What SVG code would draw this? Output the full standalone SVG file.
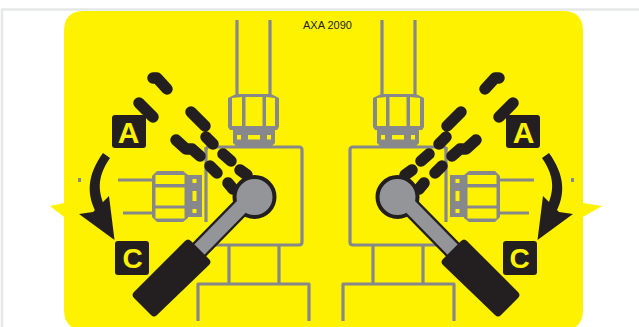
<svg xmlns="http://www.w3.org/2000/svg" width="639" height="327" viewBox="0 0 639 327">
<style>
.g{fill:none;stroke:#87888b;stroke-width:3.2;stroke-linejoin:round}
.s{fill:#87888b}
.y{fill:#fff200}
.d{fill:none;stroke:#231f20;stroke-width:11.500;stroke-linecap:round;stroke-linejoin:round}
.k{fill:#231f20}
.l{font-family:"Liberation Sans",Arial,sans-serif;font-weight:700;fill:#fff200;text-anchor:middle}
</style>
<defs>
<g id="side">
<g class="g">
<path d="M237 20V94M270 20V94"/>
<path d="M206 150Q206 147 209 147H299Q302 147 302 150V242Q302 245 299 245H214"/>
<path d="M206 147V222"/>
<path d="M229 245V283M279 245V283"/>
<path d="M198 321V284H309V321"/>
<path d="M118 180H153M123 213H153"/>
</g>
<path class="s" d="M228 98L236 94H271L279 98V127L277 130H230L228 127Z"/>
<path class="y" d="M232 98L242 97V126H232ZM245.500 97H262.500V126H245.500ZM266 97L275 98V126H266Z"/>
<path class="s" d="M233 129H275V143L272 146H236L233 143Z"/>
<path class="y" d="M237 135H241V139.500H237ZM248 135H260V139.500H248ZM267 135H271V139.500H267Z"/>
<path class="s" d="M157 171H183L188 175V218L183 222H157L152 217V176Z"/>
<path class="y" d="M155.500 175H184.500V184H155.500ZM155.500 187.500H184.500V205.500H155.500ZM155.500 208.500H184.500V218.500H155.500Z"/>
<path class="s" d="M188 175H202V217H188Z"/>
<path class="y" d="M192.500 179H196.500V183H192.500ZM192.500 191H196.500V201H192.500ZM192.500 209H196.500V213H192.500Z"/>
<path class="d" d="M153 78L157 78L167 89M139 103L153 117M191 112L205 126M206 137L213 144M176 140L186 149L192 149L200 156M223 154L231 161M210 166L217 173M240 170L247 175M228 183L233 189"/>
<path d="M252 196L199 250" stroke="#231f20" stroke-width="19" fill="none"/>
<circle cx="254.500" cy="197" r="20" fill="#939598" stroke="#231f20" stroke-width="4"/>
<path d="M252 196L197 252" stroke="#939598" stroke-width="14.500" fill="none"/>
<path class="k" d="M185 241Q188 238 191 241L209 259Q212 262 209 265L157 315Q154 318 151 315L134 298Q131 295 134 292Z"/>
<path class="k" d="M103 153L110 158C96 178 99 192 104 205L97 214C86 195 87 175 103 153Z"/>
<path class="k" d="M114.500 240L79 214L93 212L109 196Z"/>
<rect class="k" x="112" y="115" width="34" height="33" rx="3"/>
<rect class="k" x="115" y="241" width="34" height="34" rx="3"/>
</g>
</defs>
<rect width="639" height="327" fill="#fff"/>
<path d="M2 327V9.500H639" stroke="#e6e7e8" stroke-width="2.500" fill="none"/>
<g id="panel">
<path fill="#fff200" d="M84 11H563Q583 11 583 31V203L602 206L583 217V310Q583 330 563 330H84Q64 330 64 310V217L50 206L64 203V31Q64 11 84 11Z"/>
<rect x="78" y="178" width="3" height="4" fill="#87888b"/>
<rect x="571" y="178" width="3" height="4" fill="#87888b"/>
<text x="327.500" y="29" font-family="'Liberation Sans',Arial,sans-serif" font-size="11" fill="#231f20" text-anchor="middle">AXA 2090</text>
</g>
<g id="left-valve"><use href="#side"/><text class="l" font-size="30" x="128.500" y="143">A</text><text class="l" font-size="28" x="132.500" y="268">C</text></g>
<g id="right-valve"><use href="#side" transform="matrix(-1 0 0 1 652 0)"/><text class="l" font-size="30" x="523.500" y="143">A</text><text class="l" font-size="28" x="519.500" y="268">C</text></g>
</svg>
